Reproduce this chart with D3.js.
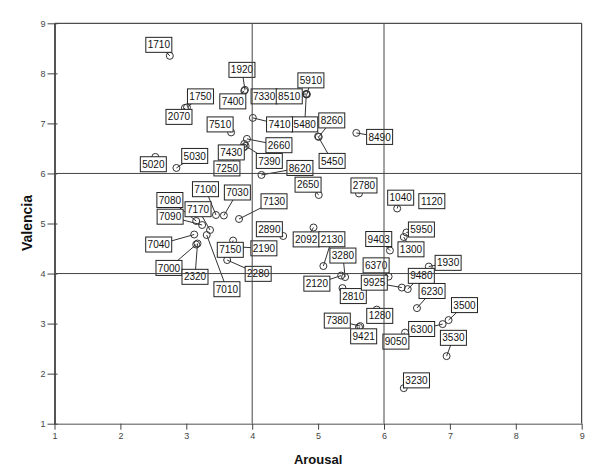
<!DOCTYPE html>
<html>
<head>
<meta charset="utf-8">
<script src="https://cdn.jsdelivr.net/npm/d3@7"></script>
<style>
  body { margin: 0; background: #fff; }
  svg { font-family: "Liberation Sans", Arial, sans-serif; }
</style>
</head>
<body>
<div id="chart"></div>
<script>
// Data: picture labels (ids), arousal (x) and valencia (y)
var ids = ["1710","1920","7400","1750","2070","7330","8510","5910","5480","7410",
           "7510","8260","5450","8490","2660","7430","7390","7250","5020","5030",
           "8620","2650","2780","1040","1120","7100","7030","7130","7080","7090",
           "7170","7040","7000","2320","7010","7150","2190","2280","2890","2092",
           "2130","3280","2120","2810","6370","9925","9480","9403","5950","1300",
           "1930","6230","3500","6300","3530","9050","1280","7380","9421","3230"];

var arousal = [2.75,3.89,3.88,3.01,2.98,4.15,4.82,4.83,4.82,4.01,
               3.68,5.01,5.00,5.58,3.92,3.88,3.90,3.87,2.53,2.85,
               4.14,5.01,5.62,6.20,6.70,3.45,3.57,3.80,3.15,3.24,
               3.36,3.12,3.15,3.17,3.31,3.71,3.81,3.62,4.47,4.93,
               5.08,5.41,5.35,5.37,6.07,6.27,6.36,6.09,6.34,6.30,
               6.68,6.50,6.98,6.89,6.95,6.32,5.89,5.64,5.62,6.30];

var valencia = [8.35,7.67,7.65,7.32,7.31,7.53,7.59,7.58,7.58,7.11,
                6.82,6.73,6.74,6.81,6.69,6.59,6.55,6.52,6.33,6.11,
                5.97,5.57,5.60,5.30,5.43,5.17,5.16,5.09,5.05,4.97,
                4.87,4.78,4.58,4.60,4.77,4.66,4.53,4.27,4.75,4.92,
                4.15,3.93,3.96,3.71,3.94,3.72,3.69,4.46,4.82,4.73,
                4.14,3.31,3.07,2.99,2.35,2.82,3.28,2.95,2.93,1.71];

var tickValues = [1,2,3,4,5,6,7,8,9];
var refLines = [4,6];

// label box placement (pixel nudge from each point), layout only
var labelNudge = [[-11,-11],[-3,-20],[-11.5,10.5],[13.5,-11],[-6,9],[2,-0.5],[-17,2.5],[4,-14],[-1.5,30],[26.7,6.5],
                  [-11,-8],[13,-16.5],[14,24.5],[23.3,4],[32,6.3],[-13,8.5],[23.7,15],[-16.7,21],[-2,7.3],[18.3,-12],
                  [38.5,-7],[-10.7,-10.3],[5,-8],[3.5,-10.8],[1.7,-0.8],[-10.5,-25.8],[13.5,-23],[35,-17.7],[-26.3,-21],[-32,-8.3],
                  [-12,-20.8],[-35.5,10],[-27.2,23.4],[-2.5,33.3],[20.2,54.2],[-2.8,9.3],[24.2,1.3],[31,13.8],[-13.8,-6.8],[-7.3,11.9],
                  [8.5,-26.8],[-2.2,-21.5],[-24.3,8.1],[10.8,8],[-12.5,-11.2],[-27.5,-4.9],[13.6,-13.2],[-11.2,-11.5],[15,-3],[7.2,12.3],
                  [19.3,-3.7],[15.1,-17.1],[15.9,-15],[-21,4.9],[6.8,-18.3],[-9.2,9],[3,6.3],[-23,-5.5],[4.7,9.2],[12.7,-7.8]];

var width = 606, height = 473;
var plotLeft = 54.5, plotRight = 581.7, plotTop = 23.3, plotBottom = 423.7;

var svg = d3.select("#chart").append("svg")
  .attr("width", width)
  .attr("height", height);

var x = d3.scaleLinear().domain([1, 9]).range([plotLeft, plotRight]);
var y = d3.scaleLinear().domain([1, 9]).range([plotBottom, plotTop]);

var points = ids.map(function(id, i) {
  return { id: id, a: arousal[i], v: valencia[i], dx: labelNudge[i][0], dy: labelNudge[i][1] };
});

// frame top/right
svg.append("path")
  .attr("d", `M${plotLeft},${plotTop}H${plotRight}V${plotBottom}`)
  .attr("fill", "none")
  .attr("stroke", "#222")
  .attr("stroke-width", 1);

// leader lines
svg.append("g").selectAll("line")
  .data(points)
  .enter()
  .append("line")
  .attr("x1", d => x(d.a))
  .attr("y1", d => y(d.v))
  .attr("x2", d => x(d.a) + d.dx)
  .attr("y2", d => y(d.v) + d.dy)
  .attr("stroke", "#333")
  .attr("stroke-width", 1);

// markers
svg.append("g").selectAll("circle")
  .data(points)
  .enter()
  .append("circle")
  .attr("cx", d => x(d.a))
  .attr("cy", d => y(d.v))
  .attr("r", 3.5)
  .attr("fill", "none")
  .attr("stroke", "#333")
  .attr("stroke-width", 1);

// label boxes
var labels = svg.append("g").selectAll("g")
  .data(points)
  .enter()
  .append("g")
  .attr("transform", d => `translate(${x(d.a) + d.dx}, ${y(d.v) + d.dy})`);

labels.append("rect")
  .attr("x", -13)
  .attr("y", -7.5)
  .attr("width", 26)
  .attr("height", 15)
  .attr("fill", "#fff")
  .attr("stroke", "#222")
  .attr("stroke-width", 1);

labels.append("text")
  .attr("text-anchor", "middle")
  .attr("dy", "0.36em")
  .attr("font-size", "10px")
  .attr("fill", "#111")
  .text(d => d.id);

// reference lines
svg.append("g").selectAll("line")
  .data(refLines)
  .enter()
  .append("line")
  .attr("x1", d => x(d))
  .attr("x2", d => x(d))
  .attr("y1", plotTop)
  .attr("y2", plotBottom)
  .attr("stroke", "#444")
  .attr("stroke-width", 1);

svg.append("g").selectAll("line")
  .data(refLines)
  .enter()
  .append("line")
  .attr("x1", plotLeft)
  .attr("x2", plotRight)
  .attr("y1", d => y(d))
  .attr("y2", d => y(d))
  .attr("stroke", "#444")
  .attr("stroke-width", 1);

// axes
var bottomAxis = d3.axisBottom(x).tickValues(tickValues).tickFormat(d3.format("d")).tickSize(6).tickPadding(3).tickSizeOuter(0);
var leftAxis = d3.axisLeft(y).tickValues(tickValues).tickFormat(d3.format("d")).tickSize(7).tickPadding(2).tickSizeOuter(0);

var xg = svg.append("g")
  .attr("transform", `translate(0, ${plotBottom})`)
  .call(bottomAxis);
xg.select(".domain").attr("stroke", "#8a8a8a").attr("stroke-width", 1.5);
xg.selectAll(".tick line").attr("stroke", "#444");
xg.selectAll(".tick text").attr("font-size", "9px").attr("fill", "#444").attr("font-family", "Liberation Sans, Arial, sans-serif");

var yg = svg.append("g")
  .attr("transform", `translate(${plotLeft}, 0)`)
  .call(leftAxis);
yg.select(".domain").attr("stroke", "#555").attr("stroke-width", 2);
yg.selectAll(".tick line").attr("x1", 3).attr("stroke", "#444");
yg.selectAll(".tick text").attr("font-size", "9px").attr("fill", "#444").attr("font-family", "Liberation Sans, Arial, sans-serif");

// axis titles
svg.append("text")
  .attr("transform", `translate(${(plotLeft + plotRight) / 2}, 464)`)
  .attr("text-anchor", "middle")
  .attr("font-size", "13px")
  .attr("font-weight", "bold")
  .attr("fill", "#111")
  .text("Arousal");

svg.append("text")
  .attr("transform", "translate(32, 223) rotate(-90)")
  .attr("text-anchor", "middle")
  .attr("font-size", "14px")
  .attr("font-weight", "bold")
  .attr("fill", "#111")
  .text("Valencia");
</script>
</body>
</html>
